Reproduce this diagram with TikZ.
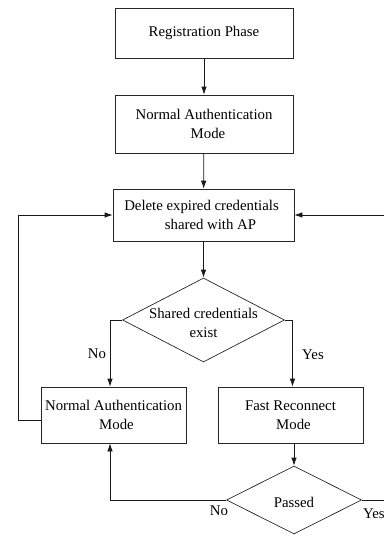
\documentclass[tikz,border=0pt]{standalone}
\usepackage{fontspec}
\setmainfont{Liberation Serif}
\usetikzlibrary{shapes.geometric,arrows.meta}
\begin{document}
\begin{tikzpicture}[x=1pt,y=-1pt,
  every node/.style={font=\fontsize{14.8}{19}\selectfont},
  box/.style={draw=black!85, line width=0.7pt, align=center, inner sep=0pt},
  dia/.style={diamond, draw=black!85, line width=0.7pt, inner sep=0pt},
  arr/.style={-{Latex[length=8pt,width=5.5pt]}, line width=0.7pt, draw=black!90},
  ln/.style={line width=0.7pt, draw=black!90}]
\useasboundingbox (0,0) rectangle (384,536);
\node[box, minimum width=178pt, minimum height=50pt] (reg) at (204,33) {Registration Phase};
\node[box, minimum width=178pt, minimum height=58pt] (nam1) at (204,124) {Normal Authentication\\\hspace*{8pt}Mode};
\node[box, minimum width=181pt, minimum height=52pt] (del) at (203.5,215) {Delete expired credentials\hspace*{4pt}\\\hspace*{14pt}shared with AP};
\node[dia, minimum width=162pt, minimum height=84pt,
  label={[align=center, yshift=-3pt]center:{Shared credentials\\exist}}] (d1) at (203.5,320) {};
\node[box, minimum width=145pt, minimum height=56pt] (nam2) at (113.5,415) {Normal Authentication\\\hspace*{6pt}Mode};
\node[box, minimum width=145pt, minimum height=56pt] (fr) at (290.5,415) {Fast Reconnect\\\hspace*{6pt}Mode};
\node[dia, minimum width=135pt, minimum height=68pt,
  label={[yshift=-2pt]center:Passed}] (d2) at (294,500) {};
\node (no1) at (97,354) {No};
\node (yes1) at (313,355) {Yes};
\node (no2) at (219,511) {No};
\node[anchor=west, inner sep=0pt] (yes2) at (363,514) {Yes};
\coordinate (lb) at (18,0);
\coordinate (ri) at (384,215);
\coordinate (re) at (384,500);
\draw[arr] (reg) -- (nam1);
\draw[arr] (nam1) -- (del);
\draw[arr] (del.south) -- (d1.north);
\draw[arr] (d1.west) -| ([xshift=-3.5pt]nam2.north);
\draw[arr] (d1.east) -| ([xshift=2pt]fr.north);
\draw[arr] (fr.south -| d2.north) -- (d2.north);
\draw[arr] (d2.west) -| ([xshift=-3.5pt]nam2.south);
\draw[ln] (d2.east) -- (re);
\draw[arr] ([yshift=-5pt]nam2.west) -- ([yshift=-5pt]nam2.west -| lb) |- (del.west);
\draw[arr] (ri) -- (del.east);
\end{tikzpicture}
\end{document}
